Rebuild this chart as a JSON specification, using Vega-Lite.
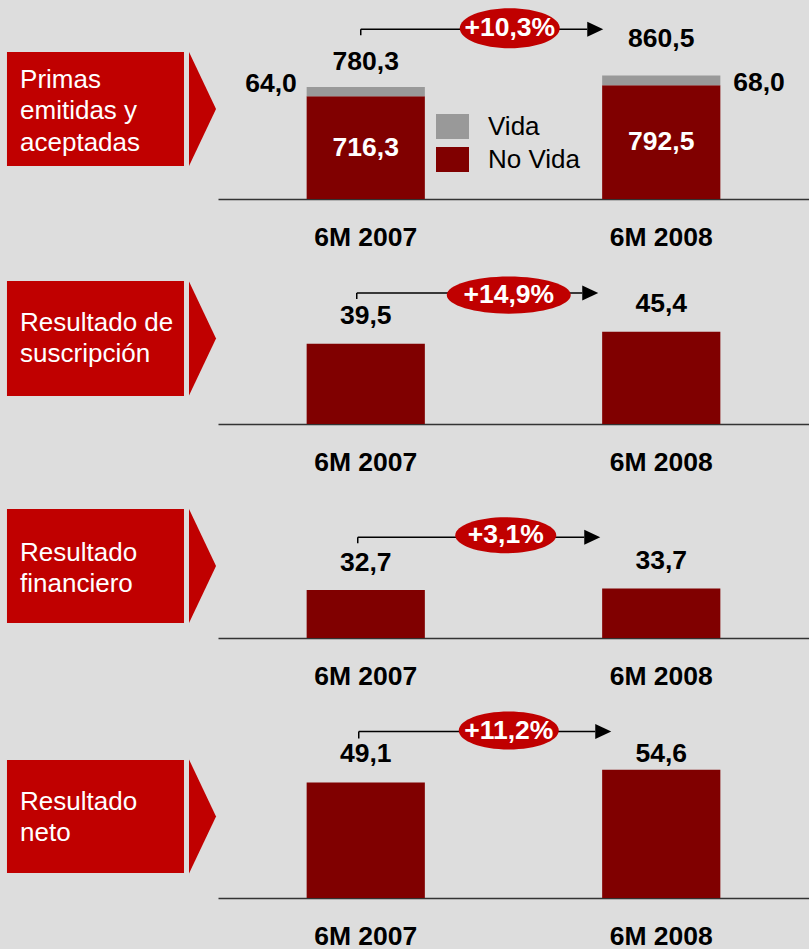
{
  "$schema": "https://vega.github.io/schema/vega-lite/v6.json",
  "background": "#DDDDDD",
  "padding": 0,
  "spacing": 0,
  "config": {
    "locale": {"number": {"decimal": ",", "thousands": ".", "grouping": [3], "currency": ["", " €"]}},
    "view": {"stroke": null},
    "font": "Liberation Sans",
    "concat": {"spacing": 0},
    "axisX": {"labelFontSize": 26.5, "labelFontWeight": "bold", "labelColor": "#000000", "domainColor": "#333333", "domainWidth": 1.5, "ticks": false, "tickSize": 0, "labelPadding": 38, "labelBaseline": "middle", "labelAngle": 0, "grid": false},
    "text": {"font": "Liberation Sans"}
  },
  "datasets": {
    "bars": [
      {"panel": "primas", "period": "6M 2007", "type": "No Vida", "value": 716.3},
      {"panel": "primas", "period": "6M 2007", "type": "Vida", "value": 64.0},
      {"panel": "primas", "period": "6M 2008", "type": "No Vida", "value": 792.5},
      {"panel": "primas", "period": "6M 2008", "type": "Vida", "value": 68.0},
      {"panel": "suscripcion", "period": "6M 2007", "value": 39.5},
      {"panel": "suscripcion", "period": "6M 2008", "value": 45.4},
      {"panel": "financiero", "period": "6M 2007", "value": 32.7},
      {"panel": "financiero", "period": "6M 2008", "value": 33.7},
      {"panel": "neto", "period": "6M 2007", "value": 49.1},
      {"panel": "neto", "period": "6M 2008", "value": 54.6}
    ],
    "growth": [
      {"panel": "primas", "growth": "+10,3%"},
      {"panel": "suscripcion", "growth": "+14,9%"},
      {"panel": "financiero", "growth": "+3,1%"},
      {"panel": "neto", "growth": "+11,2%"}
    ],
    "panels": [
      {"panel": "primas", "label": "Primas\nemitidas y\naceptadas"},
      {"panel": "suscripcion", "label": "Resultado de\nsuscripción"},
      {"panel": "financiero", "label": "Resultado\nfinanciero"},
      {"panel": "neto", "label": "Resultado\nneto"}
    ]
  },
  "vconcat": [
    {
      "spacing": 0,
      "hconcat": [
        {
          "width": 218, "height": 199,
          "data": {"name": "panels"},
          "transform": [{"filter": "datum.panel == 'primas'"}],
          "layer": [
            {"mark": {"type": "rect", "color": "#C00000"},
             "encoding": {"x": {"datum": 0.032, "type": "quantitative", "scale": {"domain": [0, 1], "nice": false}, "axis": null}, "x2": {"datum": 0.844}, "y": {"datum": 0.739, "type": "quantitative", "scale": {"domain": [0, 1], "nice": false}, "axis": null}, "y2": {"datum": 0.166}}},
            {"mark": {"type": "point", "shape": "M-0.237,-1L0.237,0L-0.237,1Z", "size": 12996, "filled": true, "color": "#C00000", "opacity": 1, "strokeWidth": 0},
             "encoding": {"x": {"datum": 0.929, "type": "quantitative"}, "y": {"datum": 0.452, "type": "quantitative"}}},
            {"mark": {"type": "text", "color": "#FFFFFF", "fontSize": 26, "align": "left", "baseline": "middle", "lineBreak": "\n", "lineHeight": 31.5},
             "encoding": {"x": {"datum": 0.092, "type": "quantitative"}, "y": {"datum": 0.598, "type": "quantitative"}, "text": {"field": "label", "type": "nominal"}}}
          ]
        },
        {
          "width": 591, "height": 199,
          "resolve": {"scale": {"y": "independent"}},
          "layer": [
            {
              "data": {"name": "bars"},
              "transform": [{"filter": "datum.panel == 'primas'"}],
              "mark": {"type": "bar"},
              "encoding": {
                "x": {"field": "period", "type": "nominal", "title": null, "scale": {"paddingInner": 0.6, "paddingOuter": 0.3}},
                "y": {"field": "value", "type": "quantitative", "stack": "zero", "scale": {"domain": [0, 1387], "nice": false}, "axis": null},
                "color": {"field": "type", "type": "nominal", "scale": {"domain": ["Vida", "No Vida"], "range": ["#999999", "#800000"]},
                  "legend": {"orient": "none", "legendX": 436, "legendY": 110, "title": null, "symbolType": "M-1,-0.76H1V0.76H-1Z", "symbolSize": 1089, "symbolStrokeWidth": 0, "symbolOpacity": 1, "labelFontSize": 26, "labelColor": "#000000", "labelFont": "Liberation Sans", "labelOffset": 19, "rowPadding": 3, "padding": 0}},
                "order": {"field": "type", "sort": "ascending"}
              }
            },
            {
              "data": {"name": "bars"},
              "transform": [{"filter": "datum.panel == 'primas'"}, {"joinaggregate": [{"op": "sum", "field": "value", "as": "total"}], "groupby": ["period"]}, {"filter": "datum.type == 'Vida' && datum.period == '6M 2007'"}],
              "mark": {"type": "text", "fontSize": 26.5, "fontWeight": "bold", "color": "#000000", "baseline": "middle", "dy": -25},
              "encoding": {
                "x": {"field": "period", "type": "nominal", "title": null},
                "y": {"field": "total", "type": "quantitative", "scale": {"domain": [0, 1387], "nice": false}, "axis": null},
                "text": {"field": "total", "type": "quantitative", "format": ".1f"}
              }
            },
            {
              "data": {"name": "bars"},
              "transform": [{"filter": "datum.panel == 'primas'"}, {"joinaggregate": [{"op": "sum", "field": "value", "as": "total"}], "groupby": ["period"]}, {"filter": "datum.type == 'Vida' && datum.period == '6M 2008'"}],
              "mark": {"type": "text", "fontSize": 26.5, "fontWeight": "bold", "color": "#000000", "baseline": "middle", "dy": -37},
              "encoding": {
                "x": {"field": "period", "type": "nominal", "title": null},
                "y": {"field": "total", "type": "quantitative", "scale": {"domain": [0, 1387], "nice": false}, "axis": null},
                "text": {"field": "total", "type": "quantitative", "format": ".1f"}
              }
            },
            {
              "data": {"name": "bars"},
              "transform": [{"filter": "datum.panel == 'primas'"}, {"joinaggregate": [{"op": "sum", "field": "value", "as": "total"}], "groupby": ["period"]}, {"filter": "datum.type == 'Vida' && datum.period == '6M 2007'"}],
              "mark": {"type": "text", "fontSize": 26.5, "fontWeight": "bold", "color": "#000000", "baseline": "middle", "align": "right", "dx": -69, "dy": -3},
              "encoding": {
                "x": {"field": "period", "type": "nominal", "title": null},
                "y": {"field": "total", "type": "quantitative", "scale": {"domain": [0, 1387], "nice": false}, "axis": null},
                "text": {"field": "value", "type": "quantitative", "format": ".1f"}
              }
            },
            {
              "data": {"name": "bars"},
              "transform": [{"filter": "datum.panel == 'primas'"}, {"joinaggregate": [{"op": "sum", "field": "value", "as": "total"}], "groupby": ["period"]}, {"filter": "datum.type == 'Vida' && datum.period == '6M 2008'"}],
              "mark": {"type": "text", "fontSize": 26.5, "fontWeight": "bold", "color": "#000000", "baseline": "middle", "align": "left", "dx": 72, "dy": 7.5},
              "encoding": {
                "x": {"field": "period", "type": "nominal", "title": null},
                "y": {"field": "total", "type": "quantitative", "scale": {"domain": [0, 1387], "nice": false}, "axis": null},
                "text": {"field": "value", "type": "quantitative", "format": ".1f"}
              }
            },
            {
              "data": {"name": "bars"},
              "transform": [{"filter": "datum.panel == 'primas' && datum.type == 'No Vida'"}],
              "mark": {"type": "text", "fontSize": 26.5, "fontWeight": "bold", "color": "#FFFFFF", "baseline": "middle"},
              "encoding": {
                "x": {"field": "period", "type": "nominal", "title": null},
                "y": {"field": "value", "type": "quantitative", "scale": {"domain": [0, 2774], "nice": false}, "axis": null},
                "text": {"field": "value", "type": "quantitative", "format": ".1f"}
              }
            },
            {
              "data": {"name": "growth"},
              "transform": [{"filter": "datum.panel == 'primas'"}],
              "mark": {"type": "rule", "color": "#000000", "strokeWidth": 1.5, "xOffset": -5, "x2Offset": -74},
              "encoding": {
                "x": {"datum": "6M 2007", "type": "nominal", "title": null}, "x2": {"datum": "6M 2008"},
                "y": {"datum": 1183, "type": "quantitative", "scale": {"domain": [0, 1387], "nice": false}, "axis": null}
              }
            },
            {
              "data": {"name": "growth"},
              "transform": [{"filter": "datum.panel == 'primas'"}],
              "mark": {"type": "rule", "color": "#000000", "strokeWidth": 1.5, "xOffset": -5, "y2Offset": 6},
              "encoding": {
                "x": {"datum": "6M 2007", "type": "nominal", "title": null},
                "y": {"datum": 1183, "type": "quantitative", "scale": {"domain": [0, 1387], "nice": false}, "axis": null}, "y2": {"datum": 1183}
              }
            },
            {
              "data": {"name": "growth"},
              "transform": [{"filter": "datum.panel == 'primas'"}],
              "mark": {"type": "point", "shape": "M1,0L-1,-0.94L-1,0.94Z", "size": 256, "filled": true, "color": "#000000", "opacity": 1, "strokeWidth": 0, "xOffset": -66},
              "encoding": {
                "x": {"datum": "6M 2008", "type": "nominal", "title": null},
                "y": {"datum": 1183, "type": "quantitative", "scale": {"domain": [0, 1387], "nice": false}, "axis": null}
              }
            },
            {
              "data": {"name": "growth"},
              "transform": [{"filter": "datum.panel == 'primas'"}],
              "mark": {"type": "point", "shape": "M1,0C1,0.221 0.552,0.4 0,0.4C-0.552,0.4 -1,0.221 -1,0C-1,-0.221 -0.552,-0.4 0,-0.4C0.552,-0.4 1,-0.221 1,0Z", "size": 10000, "filled": true, "color": "#C00000", "opacity": 1, "strokeWidth": 0, "xOffset": 144, "yOffset": -1},
              "encoding": {
                "x": {"datum": "6M 2007", "type": "nominal", "title": null},
                "y": {"datum": 1183, "type": "quantitative", "scale": {"domain": [0, 1387], "nice": false}, "axis": null}
              }
            },
            {
              "data": {"name": "growth"},
              "transform": [{"filter": "datum.panel == 'primas'"}],
              "mark": {"type": "text", "fontSize": 26.5, "fontWeight": "bold", "color": "#FFFFFF", "baseline": "middle", "xOffset": 144, "yOffset": -1},
              "encoding": {
                "x": {"datum": "6M 2007", "type": "nominal", "title": null},
                "y": {"datum": 1183, "type": "quantitative", "scale": {"domain": [0, 1387], "nice": false}, "axis": null},
                "text": {"field": "growth", "type": "nominal"}
              }
            }
          ]
        }
      ]
    },
    {
      "spacing": 0,
      "hconcat": [
        {
          "width": 218, "height": 173,
          "data": {"name": "panels"},
          "transform": [{"filter": "datum.panel == 'suscripcion'"}],
          "layer": [
            {"mark": {"type": "rect", "color": "#C00000"},
             "encoding": {"x": {"datum": 0.032, "type": "quantitative", "scale": {"domain": [0, 1], "nice": false}, "axis": null}, "x2": {"datum": 0.844}, "y": {"datum": 0.827, "type": "quantitative", "scale": {"domain": [0, 1], "nice": false}, "axis": null}, "y2": {"datum": 0.162}}},
            {"mark": {"type": "point", "shape": "M-0.237,-1L0.237,0L-0.237,1Z", "size": 12996, "filled": true, "color": "#C00000", "opacity": 1, "strokeWidth": 0},
             "encoding": {"x": {"datum": 0.929, "type": "quantitative"}, "y": {"datum": 0.494, "type": "quantitative"}}},
            {"mark": {"type": "text", "color": "#FFFFFF", "fontSize": 26, "align": "left", "baseline": "middle", "lineBreak": "\n", "lineHeight": 31.5},
             "encoding": {"x": {"datum": 0.092, "type": "quantitative"}, "y": {"datum": 0.584, "type": "quantitative"}, "text": {"field": "label", "type": "nominal"}}}
          ]
        },
        {
          "width": 591, "height": 173,
          "layer": [
            {
              "data": {"name": "bars"},
              "transform": [{"filter": "datum.panel == 'suscripcion'"}],
              "mark": {"type": "bar", "color": "#800000"},
              "encoding": {
                "x": {"field": "period", "type": "nominal", "title": null, "scale": {"paddingInner": 0.6, "paddingOuter": 0.3}},
                "y": {"field": "value", "type": "quantitative", "scale": {"domain": [0, 85.2], "nice": false}, "axis": null}
              }
            },
            {
              "data": {"name": "bars"},
              "transform": [{"filter": "datum.panel == 'suscripcion'"}],
              "mark": {"type": "text", "fontSize": 26.5, "fontWeight": "bold", "color": "#000000", "baseline": "middle", "dy": -28},
              "encoding": {
                "x": {"field": "period", "type": "nominal", "title": null},
                "y": {"field": "value", "type": "quantitative"},
                "text": {"field": "value", "type": "quantitative", "format": ".1f"}
              }
            },
            {
              "data": {"name": "growth"},
              "transform": [{"filter": "datum.panel == 'suscripcion'"}],
              "mark": {"type": "rule", "color": "#000000", "strokeWidth": 1.5, "xOffset": -9, "x2Offset": -79},
              "encoding": {"x": {"datum": "6M 2007", "type": "nominal", "title": null}, "x2": {"datum": "6M 2008"}, "y": {"datum": 64.5, "type": "quantitative"}}
            },
            {
              "data": {"name": "growth"},
              "transform": [{"filter": "datum.panel == 'suscripcion'"}],
              "mark": {"type": "rule", "color": "#000000", "strokeWidth": 1.5, "xOffset": -9, "y2Offset": 6},
              "encoding": {"x": {"datum": "6M 2007", "type": "nominal", "title": null}, "y": {"datum": 64.5, "type": "quantitative"}, "y2": {"datum": 64.5}}
            },
            {
              "data": {"name": "growth"},
              "transform": [{"filter": "datum.panel == 'suscripcion'"}],
              "mark": {"type": "point", "shape": "M1,0L-1,-0.94L-1,0.94Z", "size": 256, "filled": true, "color": "#000000", "opacity": 1, "strokeWidth": 0, "xOffset": -71},
              "encoding": {"x": {"datum": "6M 2008", "type": "nominal", "title": null}, "y": {"datum": 64.5, "type": "quantitative"}}
            },
            {
              "data": {"name": "growth"},
              "transform": [{"filter": "datum.panel == 'suscripcion'"}],
              "mark": {"type": "point", "shape": "M1,0C1,0.166 0.552,0.3 0,0.3C-0.552,0.3 -1,0.166 -1,0C-1,-0.166 -0.552,-0.3 0,-0.3C0.552,-0.3 1,-0.166 1,0Z", "size": 15376, "filled": true, "color": "#C00000", "opacity": 1, "strokeWidth": 0, "xOffset": 143, "yOffset": 2},
              "encoding": {"x": {"datum": "6M 2007", "type": "nominal", "title": null}, "y": {"datum": 64.5, "type": "quantitative"}}
            },
            {
              "data": {"name": "growth"},
              "transform": [{"filter": "datum.panel == 'suscripcion'"}],
              "mark": {"type": "text", "fontSize": 26.5, "fontWeight": "bold", "color": "#FFFFFF", "baseline": "middle", "xOffset": 143, "yOffset": 2},
              "encoding": {"x": {"datum": "6M 2007", "type": "nominal", "title": null}, "y": {"datum": 64.5, "type": "quantitative"}, "text": {"field": "growth", "type": "nominal"}}
            }
          ]
        }
      ]
    },
    {
      "spacing": 0,
      "hconcat": [
        {
          "width": 218, "height": 162,
          "data": {"name": "panels"},
          "transform": [{"filter": "datum.panel == 'financiero'"}],
          "layer": [
            {"mark": {"type": "rect", "color": "#C00000"},
             "encoding": {"x": {"datum": 0.032, "type": "quantitative", "scale": {"domain": [0, 1], "nice": false}, "axis": null}, "x2": {"datum": 0.844}, "y": {"datum": 0.796, "type": "quantitative", "scale": {"domain": [0, 1], "nice": false}, "axis": null}, "y2": {"datum": 0.093}}},
            {"mark": {"type": "point", "shape": "M-0.237,-1L0.237,0L-0.237,1Z", "size": 12996, "filled": true, "color": "#C00000", "opacity": 1, "strokeWidth": 0},
             "encoding": {"x": {"datum": 0.929, "type": "quantitative"}, "y": {"datum": 0.444, "type": "quantitative"}}},
            {"mark": {"type": "text", "color": "#FFFFFF", "fontSize": 26, "align": "left", "baseline": "middle", "lineBreak": "\n", "lineHeight": 31.5},
             "encoding": {"x": {"datum": 0.092, "type": "quantitative"}, "y": {"datum": 0.525, "type": "quantitative"}, "text": {"field": "label", "type": "nominal"}}}
          ]
        },
        {
          "width": 591, "height": 162,
          "layer": [
            {
              "data": {"name": "bars"},
              "transform": [{"filter": "datum.panel == 'financiero'"}],
              "mark": {"type": "bar", "color": "#800000"},
              "encoding": {
                "x": {"field": "period", "type": "nominal", "title": null, "scale": {"paddingInner": 0.6, "paddingOuter": 0.3}},
                "y": {"field": "value", "type": "quantitative", "scale": {"domain": [0, 110.2], "nice": false}, "axis": null}
              }
            },
            {
              "data": {"name": "bars"},
              "transform": [{"filter": "datum.panel == 'financiero'"}],
              "mark": {"type": "text", "fontSize": 26.5, "fontWeight": "bold", "color": "#000000", "baseline": "middle", "dy": -27},
              "encoding": {
                "x": {"field": "period", "type": "nominal", "title": null},
                "y": {"field": "value", "type": "quantitative"},
                "text": {"field": "value", "type": "quantitative", "format": ".1f"}
              }
            },
            {
              "data": {"name": "growth"},
              "transform": [{"filter": "datum.panel == 'financiero'"}],
              "mark": {"type": "rule", "color": "#000000", "strokeWidth": 1.5, "xOffset": -8, "x2Offset": -77},
              "encoding": {"x": {"datum": "6M 2007", "type": "nominal", "title": null}, "x2": {"datum": "6M 2008"}, "y": {"datum": 68.5, "type": "quantitative"}}
            },
            {
              "data": {"name": "growth"},
              "transform": [{"filter": "datum.panel == 'financiero'"}],
              "mark": {"type": "rule", "color": "#000000", "strokeWidth": 1.5, "xOffset": -8, "y2Offset": 6},
              "encoding": {"x": {"datum": "6M 2007", "type": "nominal", "title": null}, "y": {"datum": 68.5, "type": "quantitative"}, "y2": {"datum": 68.5}}
            },
            {
              "data": {"name": "growth"},
              "transform": [{"filter": "datum.panel == 'financiero'"}],
              "mark": {"type": "point", "shape": "M1,0L-1,-0.94L-1,0.94Z", "size": 256, "filled": true, "color": "#000000", "opacity": 1, "strokeWidth": 0, "xOffset": -69},
              "encoding": {"x": {"datum": "6M 2008", "type": "nominal", "title": null}, "y": {"datum": 68.5, "type": "quantitative"}}
            },
            {
              "data": {"name": "growth"},
              "transform": [{"filter": "datum.panel == 'financiero'"}],
              "mark": {"type": "point", "shape": "M1,0C1,0.197 0.552,0.356 0,0.356C-0.552,0.356 -1,0.197 -1,0C-1,-0.197 -0.552,-0.356 0,-0.356C0.552,-0.356 1,-0.197 1,0Z", "size": 10201, "filled": true, "color": "#C00000", "opacity": 1, "strokeWidth": 0, "xOffset": 140, "yOffset": -2},
              "encoding": {"x": {"datum": "6M 2007", "type": "nominal", "title": null}, "y": {"datum": 68.5, "type": "quantitative"}}
            },
            {
              "data": {"name": "growth"},
              "transform": [{"filter": "datum.panel == 'financiero'"}],
              "mark": {"type": "text", "fontSize": 26.5, "fontWeight": "bold", "color": "#FFFFFF", "baseline": "middle", "xOffset": 140, "yOffset": -2},
              "encoding": {"x": {"datum": "6M 2007", "type": "nominal", "title": null}, "y": {"datum": 68.5, "type": "quantitative"}, "text": {"field": "growth", "type": "nominal"}}
            }
          ]
        }
      ]
    },
    {
      "spacing": 0,
      "hconcat": [
        {
          "width": 218, "height": 208,
          "data": {"name": "panels"},
          "transform": [{"filter": "datum.panel == 'neto'"}],
          "layer": [
            {"mark": {"type": "rect", "color": "#C00000"},
             "encoding": {"x": {"datum": 0.032, "type": "quantitative", "scale": {"domain": [0, 1], "nice": false}, "axis": null}, "x2": {"datum": 0.844}, "y": {"datum": 0.663, "type": "quantitative", "scale": {"domain": [0, 1], "nice": false}, "axis": null}, "y2": {"datum": 0.12}}},
            {"mark": {"type": "point", "shape": "M-0.237,-1L0.237,0L-0.237,1Z", "size": 12996, "filled": true, "color": "#C00000", "opacity": 1, "strokeWidth": 0},
             "encoding": {"x": {"datum": 0.929, "type": "quantitative"}, "y": {"datum": 0.392, "type": "quantitative"}}},
            {"mark": {"type": "text", "color": "#FFFFFF", "fontSize": 26, "align": "left", "baseline": "middle", "lineBreak": "\n", "lineHeight": 31.5},
             "encoding": {"x": {"datum": 0.092, "type": "quantitative"}, "y": {"datum": 0.462, "type": "quantitative"}, "text": {"field": "label", "type": "nominal"}}}
          ]
        },
        {
          "width": 591, "height": 208,
          "layer": [
            {
              "data": {"name": "bars"},
              "transform": [{"filter": "datum.panel == 'neto'"}],
              "mark": {"type": "bar", "color": "#800000"},
              "encoding": {
                "x": {"field": "period", "type": "nominal", "title": null, "scale": {"paddingInner": 0.6, "paddingOuter": 0.3}},
                "y": {"field": "value", "type": "quantitative", "scale": {"domain": [0, 88.5], "nice": false}, "axis": null}
              }
            },
            {
              "data": {"name": "bars"},
              "transform": [{"filter": "datum.panel == 'neto' && datum.period == '6M 2007'"}],
              "mark": {"type": "text", "fontSize": 26.5, "fontWeight": "bold", "color": "#000000", "baseline": "middle", "dy": -29},
              "encoding": {
                "x": {"field": "period", "type": "nominal", "title": null},
                "y": {"field": "value", "type": "quantitative"},
                "text": {"field": "value", "type": "quantitative", "format": ".1f"}
              }
            },
            {
              "data": {"name": "bars"},
              "transform": [{"filter": "datum.panel == 'neto' && datum.period == '6M 2008'"}],
              "mark": {"type": "text", "fontSize": 26.5, "fontWeight": "bold", "color": "#000000", "baseline": "middle", "dy": -16},
              "encoding": {
                "x": {"field": "period", "type": "nominal", "title": null},
                "y": {"field": "value", "type": "quantitative"},
                "text": {"field": "value", "type": "quantitative", "format": ".1f"}
              }
            },
            {
              "data": {"name": "growth"},
              "transform": [{"filter": "datum.panel == 'neto'"}],
              "mark": {"type": "rule", "color": "#000000", "strokeWidth": 1.5, "xOffset": -7, "x2Offset": -66},
              "encoding": {"x": {"datum": "6M 2007", "type": "nominal", "title": null}, "x2": {"datum": "6M 2008"}, "y": {"datum": 70.8, "type": "quantitative"}}
            },
            {
              "data": {"name": "growth"},
              "transform": [{"filter": "datum.panel == 'neto'"}],
              "mark": {"type": "rule", "color": "#000000", "strokeWidth": 1.5, "xOffset": -7, "y2Offset": 7},
              "encoding": {"x": {"datum": "6M 2007", "type": "nominal", "title": null}, "y": {"datum": 70.8, "type": "quantitative"}, "y2": {"datum": 70.8}}
            },
            {
              "data": {"name": "growth"},
              "transform": [{"filter": "datum.panel == 'neto'"}],
              "mark": {"type": "point", "shape": "M1,0L-1,-0.94L-1,0.94Z", "size": 256, "filled": true, "color": "#000000", "opacity": 1, "strokeWidth": 0, "xOffset": -58},
              "encoding": {"x": {"datum": "6M 2008", "type": "nominal", "title": null}, "y": {"datum": 70.8, "type": "quantitative"}}
            },
            {
              "data": {"name": "growth"},
              "transform": [{"filter": "datum.panel == 'neto'"}],
              "mark": {"type": "point", "shape": "M1,0C1,0.21 0.552,0.38 0,0.38C-0.552,0.38 -1,0.21 -1,0C-1,-0.21 -0.552,-0.38 0,-0.38C0.552,-0.38 1,-0.21 1,0Z", "size": 10000, "filled": true, "color": "#C00000", "opacity": 1, "strokeWidth": 0, "xOffset": 143, "yOffset": -1},
              "encoding": {"x": {"datum": "6M 2007", "type": "nominal", "title": null}, "y": {"datum": 70.8, "type": "quantitative"}}
            },
            {
              "data": {"name": "growth"},
              "transform": [{"filter": "datum.panel == 'neto'"}],
              "mark": {"type": "text", "fontSize": 26.5, "fontWeight": "bold", "color": "#FFFFFF", "baseline": "middle", "xOffset": 143, "yOffset": -1},
              "encoding": {"x": {"datum": "6M 2007", "type": "nominal", "title": null}, "y": {"datum": 70.8, "type": "quantitative"}, "text": {"field": "growth", "type": "nominal"}}
            }
          ]
        }
      ]
    }
  ]
}
